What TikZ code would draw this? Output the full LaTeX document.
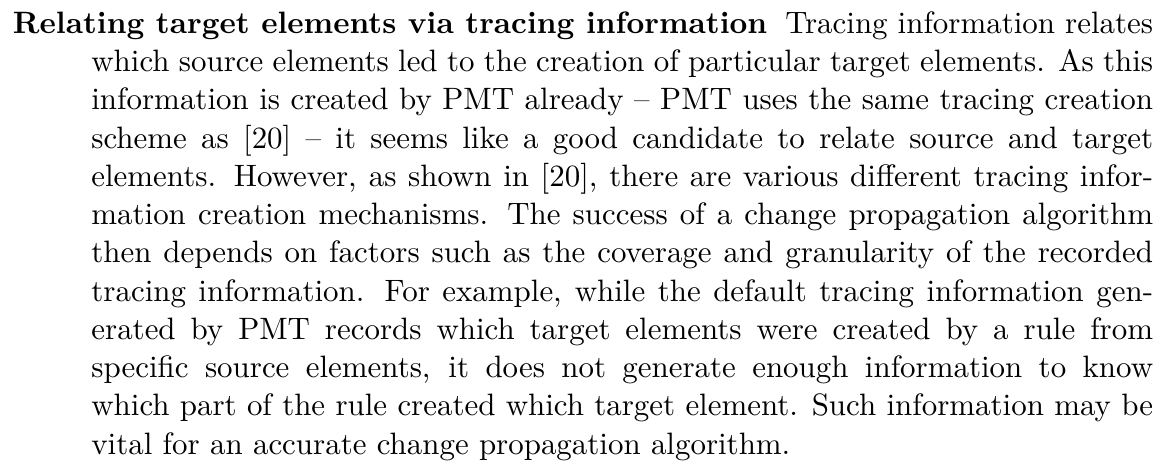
\documentclass[tikz,border=0pt]{standalone}
\usepackage{tikz}
\tikzset{para/.style={anchor=base west, inner sep=0pt, outer sep=0pt}}
\begin{document}
\begin{tikzpicture}
\useasboundingbox (0pt,0pt) rectangle (376.0pt,-149.7pt);
\node[para] (txt) at (4.2pt,-10.77pt) {\parbox[t]{368.6pt}{\fontsize{10pt}{12.37pt}\selectfont
\hyphenpenalty=10000 \tolerance=10000
\noindent\hangindent=25.35pt\hangafter=1
\textbf{Relating target elements via tracing information}\hspace{0.6em plus 0.2em minus 0.25em}Tracing information relates\linebreak
which source elements led to the creation of particular target elements. As this\linebreak
information is created by PMT already -- PMT uses the same tracing creation\linebreak
scheme as [20] -- it seems like a good candidate to relate source and target\linebreak
elements. However, as shown in [20], there are various different tracing infor-\linebreak
mation creation mechanisms. The success of a change propagation algorithm\linebreak
then depends on factors such as the coverage and granularity of the recorded\linebreak
tracing information. For example, while the default tracing information gen-\linebreak
erated by PMT records which target elements were created by a rule from\linebreak
specific source elements, it does not generate enough information to know\linebreak
which part of the rule created which target element. Such information may be\linebreak
vital for an accurate change propagation algorithm.\par}};
\end{tikzpicture}
\end{document}
